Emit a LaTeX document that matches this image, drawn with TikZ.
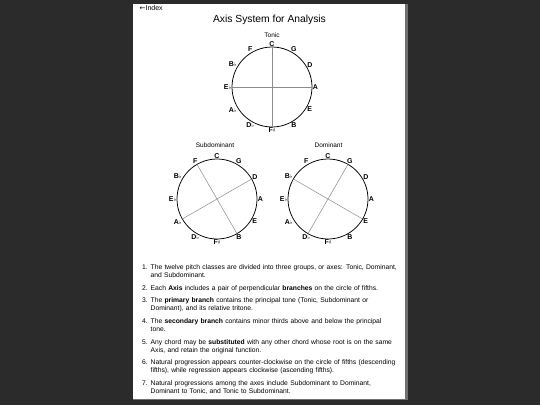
\documentclass[tikz,border=0pt]{standalone}
\usepackage{fontspec}
\setmainfont{Liberation Sans}
\newfontfamily\accfont{DejaVu Sans}
\usepackage{tikz}
\usetikzlibrary{positioning}
\definecolor{backdrop}{HTML}{2B2B2B}
\definecolor{pageedge}{HTML}{707070}
\definecolor{axisgray}{HTML}{8C8C8C}
\newcommand{\flt}{{\accfont\mdseries\fontsize{5.6}{6}\selectfont ♭}}
\newcommand{\shp}{{\accfont\mdseries\fontsize{5.6}{6}\selectfont ♯}}

\begin{document}
\begin{tikzpicture}[x=1pt,y=-1pt,
node distance=4.2pt,
wheel/.style={circle,draw,line width=0.75pt,minimum size=80pt,inner sep=0pt,outer sep=0pt},
pc/.style={font=\fontsize{7}{8}\selectfont\bfseries,inner sep=0.6pt},
axisline/.style={axisgray,line width=0.5pt},
caption/.style={font=\fontsize{6.5}{7}\selectfont,inner sep=0pt},
note/.style={text width=268pt,align=left,inner sep=0pt,font=\fontsize{6.75}{8}\selectfont,
  execute at begin node={\hangindent=8.5pt\hangafter=1\strut},execute at end node=\strut}]
\useasboundingbox (0,0) rectangle (540,405);
\fill[backdrop] (0,0) rectangle (540,405);
\fill[pageedge] (132.5,4) rectangle (407.5,399.5);
\fill[white] (132.5,4) rectangle (405,399);

\node[anchor=west,font=\fontsize{7}{8}\selectfont,inner sep=0pt] (index) at (139.5,8.3) {{\accfont ←}Index};
\node[font=\fontsize{10.3}{12}\selectfont,inner sep=0pt] (title) at (269.5,20) {Axis System for Analysis};

% the three axes on the circle of fifths
\node[wheel] (tonic) at (272,87) {};
\node[wheel] (subdom) at (217,199) {};
\node[wheel] (dom) at (328,199) {};
\node[caption] (tonic-cap) at (272,35) {Tonic};
\node[caption] (subdom-cap) at (215,145) {Subdominant};
\node[caption] (dom-cap) at (328.5,145) {Dominant};

\draw[axisline] (tonic.90) -- (tonic.-90);
\draw[axisline] (tonic.180) -- (tonic.0);
\draw[axisline] (subdom.120) -- (subdom.-60);
\draw[axisline] (subdom.30) -- (subdom.210);
\draw[axisline] (dom.60) -- (dom.240);
\draw[axisline] (dom.150) -- (dom.-30);

\foreach \wh in {tonic,subdom,dom}{
  \foreach \p/\a/\b/\i in {C/90/270/1,G/60/240/2,D/30/210/3,A/0/180/4,E/-30/150/5,B/-60/120/6,
      F\shp/-90/90/7,D\flt/-120/60/8,A\flt/-150/30/9,E\flt/180/0/10,B\flt/150/-30/11,F/120/-60/12}{
    \node[pc,anchor=\b] (\wh-\i) at (\wh.\a) {\p};
  }
}

% rules
\node[note,anchor=north west] (item1) at (142,263.9) {\makebox[8.5pt][l]{1.}The twelve pitch classes are divided into three groups, or axes: Tonic, Dominant,\newline and Subdominant.};
\node[note,below=of item1] (item2) {\makebox[8.5pt][l]{2.}Each \textbf{Axis} includes a pair of perpendicular \textbf{branches} on the circle of fifths.};
\node[note,below=of item2] (item3) {\makebox[8.5pt][l]{3.}The \textbf{primary branch} contains the principal tone (Tonic, Subdominant or\newline Dominant), and its relative tritone.};
\node[note,below=of item3] (item4) {\makebox[8.5pt][l]{4.}The \textbf{secondary branch} contains minor thirds above and below the principal\newline tone.};
\node[note,below=of item4] (item5) {\makebox[8.5pt][l]{5.}Any chord may be \textbf{substituted} with any other chord whose root is on the same\newline Axis, and retain the original function.};
\node[note,below=of item5] (item6) {\makebox[8.5pt][l]{6.}Natural progression appears counter-clockwise on the circle of fifths (descending\newline fifths), while regression appears clockwise (ascending fifths).};
\node[note,below=of item6] (item7) {\makebox[8.5pt][l]{7.}Natural progressions among the axes include Subdominant to Dominant,\newline Dominant to Tonic, and Tonic to Subdominant.};
\end{tikzpicture}
\end{document}
